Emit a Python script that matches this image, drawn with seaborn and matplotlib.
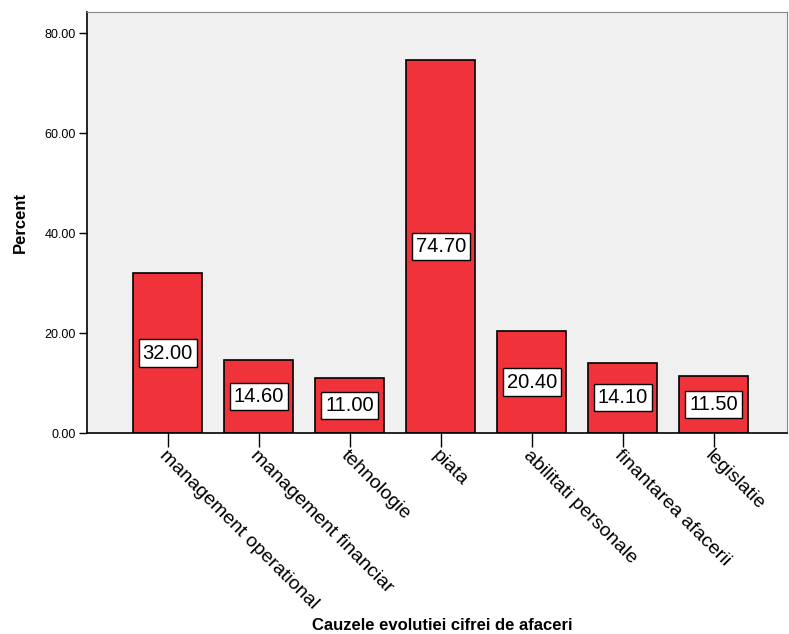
import pandas as pd
import matplotlib
matplotlib.use("Agg")
import matplotlib.pyplot as plt
import seaborn as sns

# Values
categories = ["management operational", "management financiar", "tehnologie", "piata",
              "abilitati personale", "finantarea afacerii", "legislatie"]
percents = [32.00, 14.60, 11.00, 74.70, 20.40, 14.10, 11.50]
y_ticks = [0, 20, 40, 60, 80]

df = pd.DataFrame({"cauza": categories, "percent": percents})

sns.set_style("white")
plt.rcParams['font.family'] = ['Liberation Sans', 'DejaVu Sans']
plt.rcParams.update({"text.color": "black", "axes.labelcolor": "black",
                     "xtick.color": "black", "ytick.color": "black"})

fig = plt.figure(figsize=(7.89, 6.34), dpi=100)
ax = fig.add_axes([0.110, 0.317, 0.888, 0.664])
ax.set_facecolor("#f0f0f0")

sns.barplot(data=df, x="cauza", y="percent", color="#f0333b", saturation=1,
            width=0.76, edgecolor="black", linewidth=1.2, ax=ax)

# value labels in white boxes, centred inside each bar
for i, v in enumerate(percents):
    ax.text(i, v / 2, f"{v:.2f}", ha="center", va="center", fontsize=14.5,
            bbox=dict(boxstyle="square,pad=0.2", fc="white", ec="black", lw=1))

ax.set_xlim(-0.89, 6.81)
ax.set_ylim(0, 84.2)
ax.set_yticks(y_ticks)
ax.set_yticklabels([f"{t:.2f}" for t in y_ticks], fontsize=9)
ax.set_xticks(range(len(categories)))
ax.set_xticklabels(categories, rotation=-45, ha="left", va="top",
                   rotation_mode="anchor", fontsize=14)
ax.tick_params(axis="y", length=6, width=1, direction="out", left=True, pad=2)
ax.tick_params(axis="x", length=10, width=1, direction="out", bottom=True, pad=0)

for side in ["left", "bottom"]:
    ax.spines[side].set_color("black")
    ax.spines[side].set_linewidth(1.2)
for side in ["top", "right"]:
    ax.spines[side].set_color("#888888")
    ax.spines[side].set_linewidth(0.8)

ax.set_ylabel("Percent", fontsize=12, fontweight="bold", labelpad=12)
ax.set_xlabel("Cauzele evolutiei cifrei de afaceri", fontsize=12, fontweight="bold")
ax.xaxis.label.set_va("center")
ax.xaxis.set_label_coords(0.508, -0.458)

fig.savefig("out.png", dpi=100)
